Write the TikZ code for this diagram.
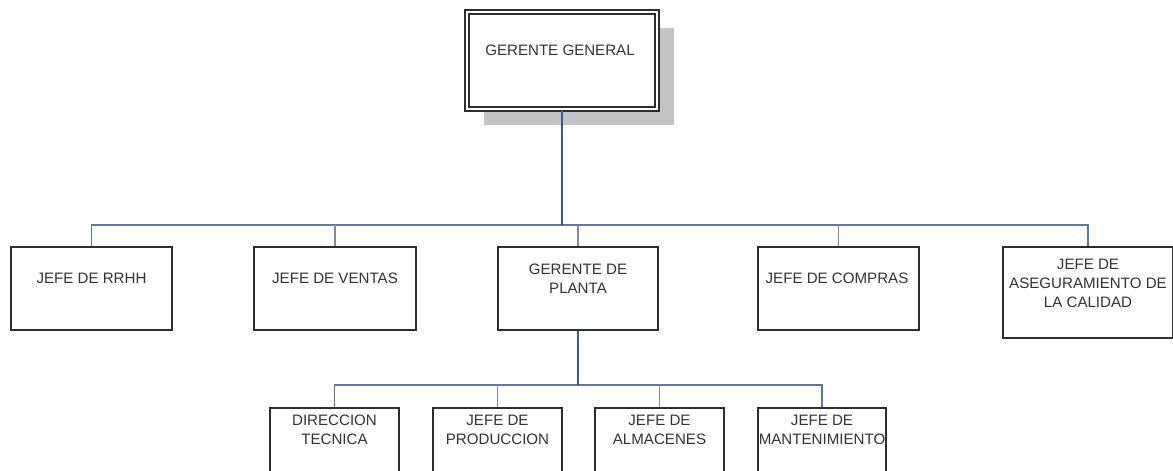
\documentclass[tikz,border=0pt]{standalone}
\usepackage{fontspec}
\setmainfont{Liberation Sans}
\usetikzlibrary{shadows}
\definecolor{trunkblue}{HTML}{3558A8}
\definecolor{busblue}{HTML}{5A7AA6}
\definecolor{dropgray}{HTML}{7D8CA3}
\definecolor{boxline}{HTML}{2E2E2E}
\definecolor{txtgray}{HTML}{333333}
\begin{document}
\begin{tikzpicture}[
    x=0.02cm, y=-0.02cm,
    box/.style={rectangle, draw=boxline, line width=1.1pt, fill=white, minimum height=83*0.02cm},
    topbox/.style={rectangle, draw=boxline, line width=1pt, double=white, double distance=1.2pt,
        fill=white, minimum width=190*0.02cm, minimum height=97*0.02cm,
        drop shadow={shadow xshift=0.33cm, shadow yshift=-0.32cm, fill=black!23, opacity=1}},
    txt/.style={align=center, inner sep=0pt, text=txtgray, font=\fontsize{8.6}{10.8}\selectfont},
    trunk/.style={draw=trunkblue, line width=1.6pt},
    bus/.style={draw=busblue, line width=0.8pt},
    drop/.style={draw=dropgray, line width=0.8pt}
]
    \path[use as bounding box, clip] (0,0) rectangle (1173,470);
    % Top level
    \node[topbox] (gg) at (562,60.5) {};
    \node[txt] (gg-txt) at (560,50) {GERENTE GENERAL};
    % Second level
    \node[box, minimum width=161*0.02cm] (rrhh) at (91.5,288.5) {};
    \node[box, minimum width=162*0.02cm] (ventas) at (335,288.5) {};
    \node[box, minimum width=160*0.02cm] (planta) at (578,288.5) {};
    \node[box, minimum width=161*0.02cm] (compras) at (838.5,288.5) {};
    \node[box, minimum width=170*0.02cm, minimum height=91*0.02cm] (calidad) at (1088,292.5) {};
    \node[txt] (rrhh-txt) at (91.5,278) {JEFE DE RRHH};
    \node[txt] (ventas-txt) at (335,278) {JEFE DE VENTAS};
    \node[txt] (planta-txt) at (578,279) {GERENTE DE\\PLANTA};
    \node[txt] (compras-txt) at (837,278) {JEFE DE COMPRAS};
    \node[txt] (calidad-txt) at (1088,283) {JEFE DE\\ASEGURAMIENTO DE\\LA CALIDAD};
    % Third level
    \node[box, minimum width=129*0.02cm] (tecnica) at (334.5,449.5) {};
    \node[box, minimum width=129*0.02cm] (produccion) at (497.5,449.5) {};
    \node[box, minimum width=129*0.02cm] (almacenes) at (659.5,449.5) {};
    \node[box, minimum width=128*0.02cm] (mant) at (822,449.5) {};
    \node[txt] (tecnica-txt) at (334.5,430) {DIRECCION\\TECNICA};
    \node[txt] (produccion-txt) at (497.5,430) {JEFE DE\\PRODUCCION};
    \node[txt] (almacenes-txt) at (659.5,430) {JEFE DE\\ALMACENES};
    \node[txt] (mant-txt) at (822,430) {JEFE DE\\MANTENIMIENTO};
    % Connectors
    \coordinate (bus1) at (562,225);
    \coordinate (bus2) at (578,385);
    \draw[bus] (rrhh.north) |- (bus1) -| (calidad.north);
    \draw[drop] (ventas.north) -- (ventas.north |- bus1);
    \draw[drop] (planta.north) -- (planta.north |- bus1);
    \draw[drop] (compras.north) -- (compras.north |- bus1);
    \draw[trunk] (gg.south) -- (bus1);
    \draw[bus] (tecnica.north) |- (bus2) -| (mant.north);
    \draw[drop] (produccion.north) -- (produccion.north |- bus2);
    \draw[drop] (almacenes.north) -- (almacenes.north |- bus2);
    \draw[trunk] (planta.south) -- (bus2);
\end{tikzpicture}
\end{document}
